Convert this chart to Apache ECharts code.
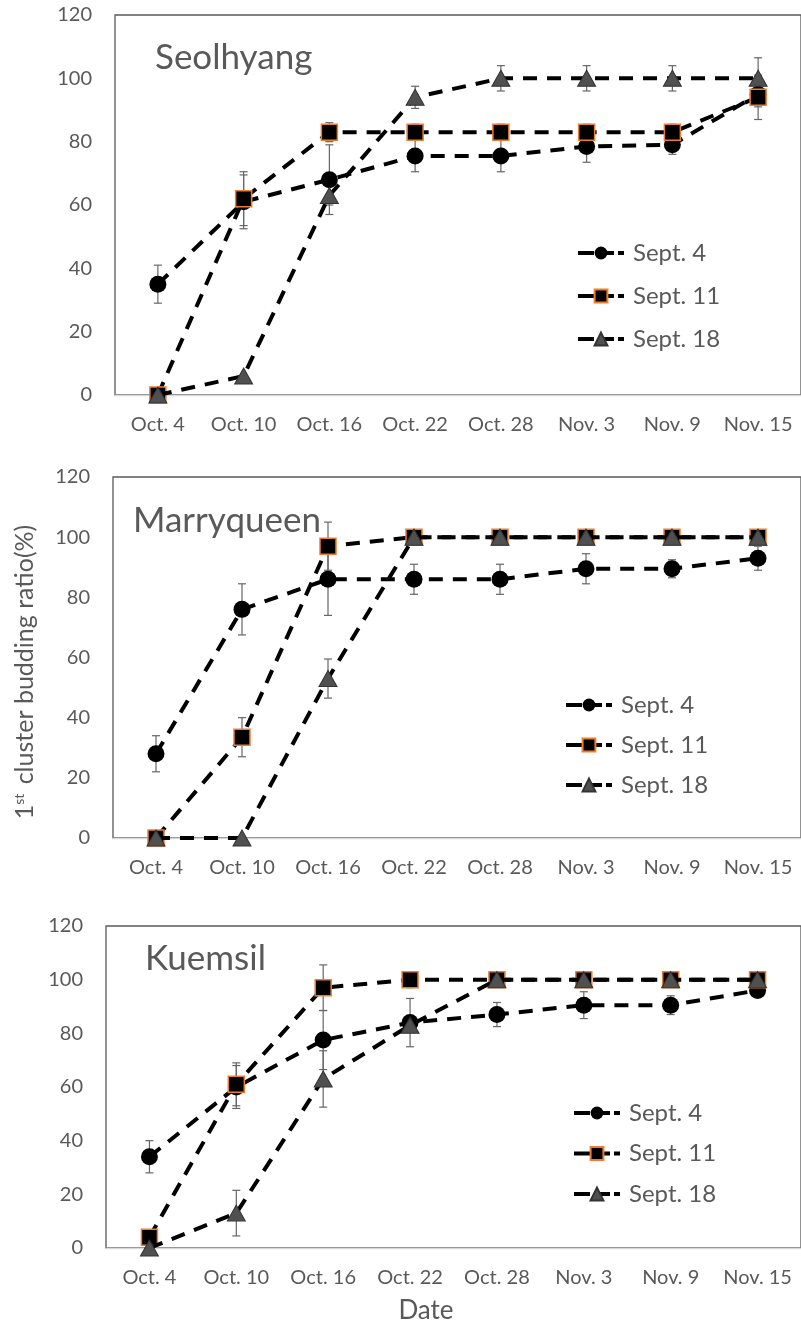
<!DOCTYPE html>
<html>
<head>
<meta charset="utf-8">
<script src="https://cdn.jsdelivr.net/npm/echarts@6/dist/echarts.min.js"></script>
<style>
  html, body { margin: 0; padding: 0; background: #ffffff; }
  #chart { width: 801px; height: 1326px; }
</style>
</head>
<body>
<div id="chart"></div>
<script>
// Survey dates (x categories)
const categories = ['Oct. 4', 'Oct. 10', 'Oct. 16', 'Oct. 22', 'Oct. 28', 'Nov. 3', 'Nov. 9', 'Nov. 15'];
const seriesNames = ['Sept. 4', 'Sept. 11', 'Sept. 18'];
const cultivars = ['Seolhyang', 'Marryqueen', 'Kuemsil'];
const yMin = 0, yMax = 120, yStep = 20;

// Seolhyang: 1st cluster budding ratio (%) and error bar half-lengths
const seolSept4 = [35, 61, 68, 75.5, 75.5, 78.5, 79, 95];
const seolSept4Err = [6, 8.5, 11, 5, 5, 5, 3, 4];
const seolSept11 = [0, 62, 83, 83, 83, 83, 83, 94];
const seolSept11Err = [0, 8.5, 3, 2.5, 2.5, 2.5, 2.5, 7];
const seolSept18 = [0, 6, 63, 94, 100, 100, 100, 100];
const seolSept18Err = [0, 0, 3, 3.5, 4, 4, 4, 6.5];

// Marryqueen
const marrSept4 = [28, 76, 86, 86, 86, 89.5, 89.5, 93];
const marrSept4Err = [6, 8.5, 12, 5, 5, 5, 3, 4];
const marrSept11 = [0, 33.5, 97, 100, 100, 100, 100, 100];
const marrSept11Err = [0, 6.5, 8, 0, 0, 0, 0, 0];
const marrSept18 = [0, 0, 53, 100, 100, 100, 100, 100];
const marrSept18Err = [0, 0, 6.5, 0, 0, 0, 0, 0];

// Kuemsil
const kueSept4 = [34, 60, 77.5, 84, 87, 90.5, 90.5, 96];
const kueSept4Err = [6, 8, 11, 9, 4.5, 5, 3.5, 2];
const kueSept11 = [4, 61, 97, 100, 100, 100, 100, 100];
const kueSept11Err = [0, 8, 8.5, 3, 0, 0, 0, 0];
const kueSept18 = [0, 13, 63, 83, 100, 100, 100, 100];
const kueSept18Err = [0, 8.5, 10.5, 0, 0, 0, 0, 0];

const panelValues = [
  [seolSept4, seolSept11, seolSept18],
  [marrSept4, marrSept11, marrSept18],
  [kueSept4, kueSept11, kueSept18]
];
const panelErrors = [
  [seolSept4Err, seolSept11Err, seolSept18Err],
  [marrSept4Err, marrSept11Err, marrSept18Err],
  [kueSept4Err, kueSept11Err, kueSept18Err]
];

const FONT = 'Lato, "Open Sans", sans-serif';
const TXT = '#595959';

// Plot boxes of the three stacked panels
const grids = [
  { left: 115, top: 15, width: 690, height: 380 },
  { left: 113, top: 477, width: 690, height: 361 },
  { left: 106, top: 926, width: 698, height: 322 }
];
const legendPos = [
  { left: 576, top: 240, itemGap: 17 },
  { left: 564, top: 692, itemGap: 14 },
  { left: 572, top: 1100, itemGap: 14.5 }
];
const titlePos = [
  { left: 155, top: 40 },
  { left: 133, top: 503 },
  { left: 145, top: 941 }
];

const dash = [14, 10];
const markerStyles = [
  { symbol: 'circle', symbolSize: 17, itemStyle: { color: '#000000' } },
  { symbol: 'rect', symbolSize: 16, itemStyle: { color: '#000000', borderColor: '#ED7D31', borderWidth: 1.5 } },
  { symbol: 'triangle', symbolSize: [18, 16], itemStyle: { color: '#505050', borderColor: '#333333', borderWidth: 1 } }
];

function errorBarItem(params, api) {
  const x = api.value(0), v = api.value(1), e = api.value(2);
  const top = api.coord([x, v + e]);
  const bot = api.coord([x, v - e]);
  const cap = 4;
  const style = { stroke: '#666666', lineWidth: 1.2 };
  return {
    type: 'group',
    children: [
      { type: 'line', shape: { x1: top[0], y1: top[1], x2: bot[0], y2: bot[1] }, style },
      { type: 'line', shape: { x1: top[0] - cap, y1: top[1], x2: top[0] + cap, y2: top[1] }, style },
      { type: 'line', shape: { x1: bot[0] - cap, y1: bot[1], x2: bot[0] + cap, y2: bot[1] }, style }
    ]
  };
}

const option = {
  animation: false,
  backgroundColor: '#ffffff',
  textStyle: { fontFamily: FONT },
  grid: grids.map(g => Object.assign({
    show: true, borderColor: '#595959', borderWidth: 1.3, backgroundColor: 'transparent'
  }, g)),
  title: cultivars.map((c, i) => ({
    text: c, left: titlePos[i].left, top: titlePos[i].top, padding: 0,
    textStyle: { fontFamily: FONT, fontSize: 35, fontWeight: 'normal', color: TXT }
  })),
  legend: legendPos.map((p, i) => ({
    data: seriesNames, orient: 'vertical', left: p.left, top: p.top, padding: 0,
    itemGap: p.itemGap, itemWidth: 46, itemHeight: 16, selectedMode: false,
    lineStyle: { width: 4, color: '#000000', type: [16, 4] },
    textStyle: { fontFamily: FONT, fontSize: 24, color: TXT, lineHeight: 26, padding: [0, 0, 0, 4] }
  })),
  xAxis: grids.map((g, i) => ({
    type: 'category', gridIndex: i, data: categories, z: 3,
    axisLine: { show: true, lineStyle: { color: '#D9D9D9', width: 1.3 } },
    axisTick: { show: false },
    axisLabel: { fontFamily: FONT, fontSize: 20, color: TXT, margin: 20, interval: 0 },
    splitLine: { show: false }
  })),
  yAxis: grids.map((g, i) => ({
    type: 'value', gridIndex: i, min: yMin, max: yMax, interval: yStep,
    axisLine: { show: false }, axisTick: { show: false }, splitLine: { show: false },
    axisLabel: { fontFamily: FONT, fontSize: 20, color: TXT, margin: 23 }
  })),
  graphic: [
    {
      type: 'text', x: 25, y: 672, rotation: Math.PI / 2,
      style: {
        text: '1{sup|st} cluster budding ratio(%)',
        font: '25px ' + FONT, fill: TXT, align: 'center', verticalAlign: 'middle',
        rich: { sup: { fontSize: 14, fontFamily: FONT, fill: TXT, verticalAlign: 'top', padding: [0, 3, 10, 0] } }
      }
    },
    {
      type: 'text', x: 426, y: 1311,
      style: { text: 'Date', font: '26px ' + FONT, fill: TXT, align: 'center', verticalAlign: 'middle' }
    }
  ],
  series: []
};

for (let p = 0; p < 3; p++) {
  for (let s = 0; s < 3; s++) {
    const errData = [];
    panelValues[p][s].forEach((v, k) => {
      if (panelErrors[p][s][k] > 0) errData.push([k, v, panelErrors[p][s][k]]);
    });
    option.series.push({
      type: 'custom', name: seriesNames[s] + ' error', xAxisIndex: p, yAxisIndex: p, z: 1,
      renderItem: errorBarItem, data: errData, silent: true
    });
  }
  for (let s = 0; s < 3; s++) {
    option.series.push(Object.assign({
      type: 'line', name: seriesNames[s], xAxisIndex: p, yAxisIndex: p, z: 2 + s,
      data: panelValues[p][s],
      lineStyle: { color: '#000000', width: 4, type: dash },
      emphasis: { disabled: true }
    }, markerStyles[s]));
  }
}

const chart = echarts.init(document.getElementById('chart'), null, { renderer: 'canvas' });
chart.setOption(option);
</script>
</body>
</html>
